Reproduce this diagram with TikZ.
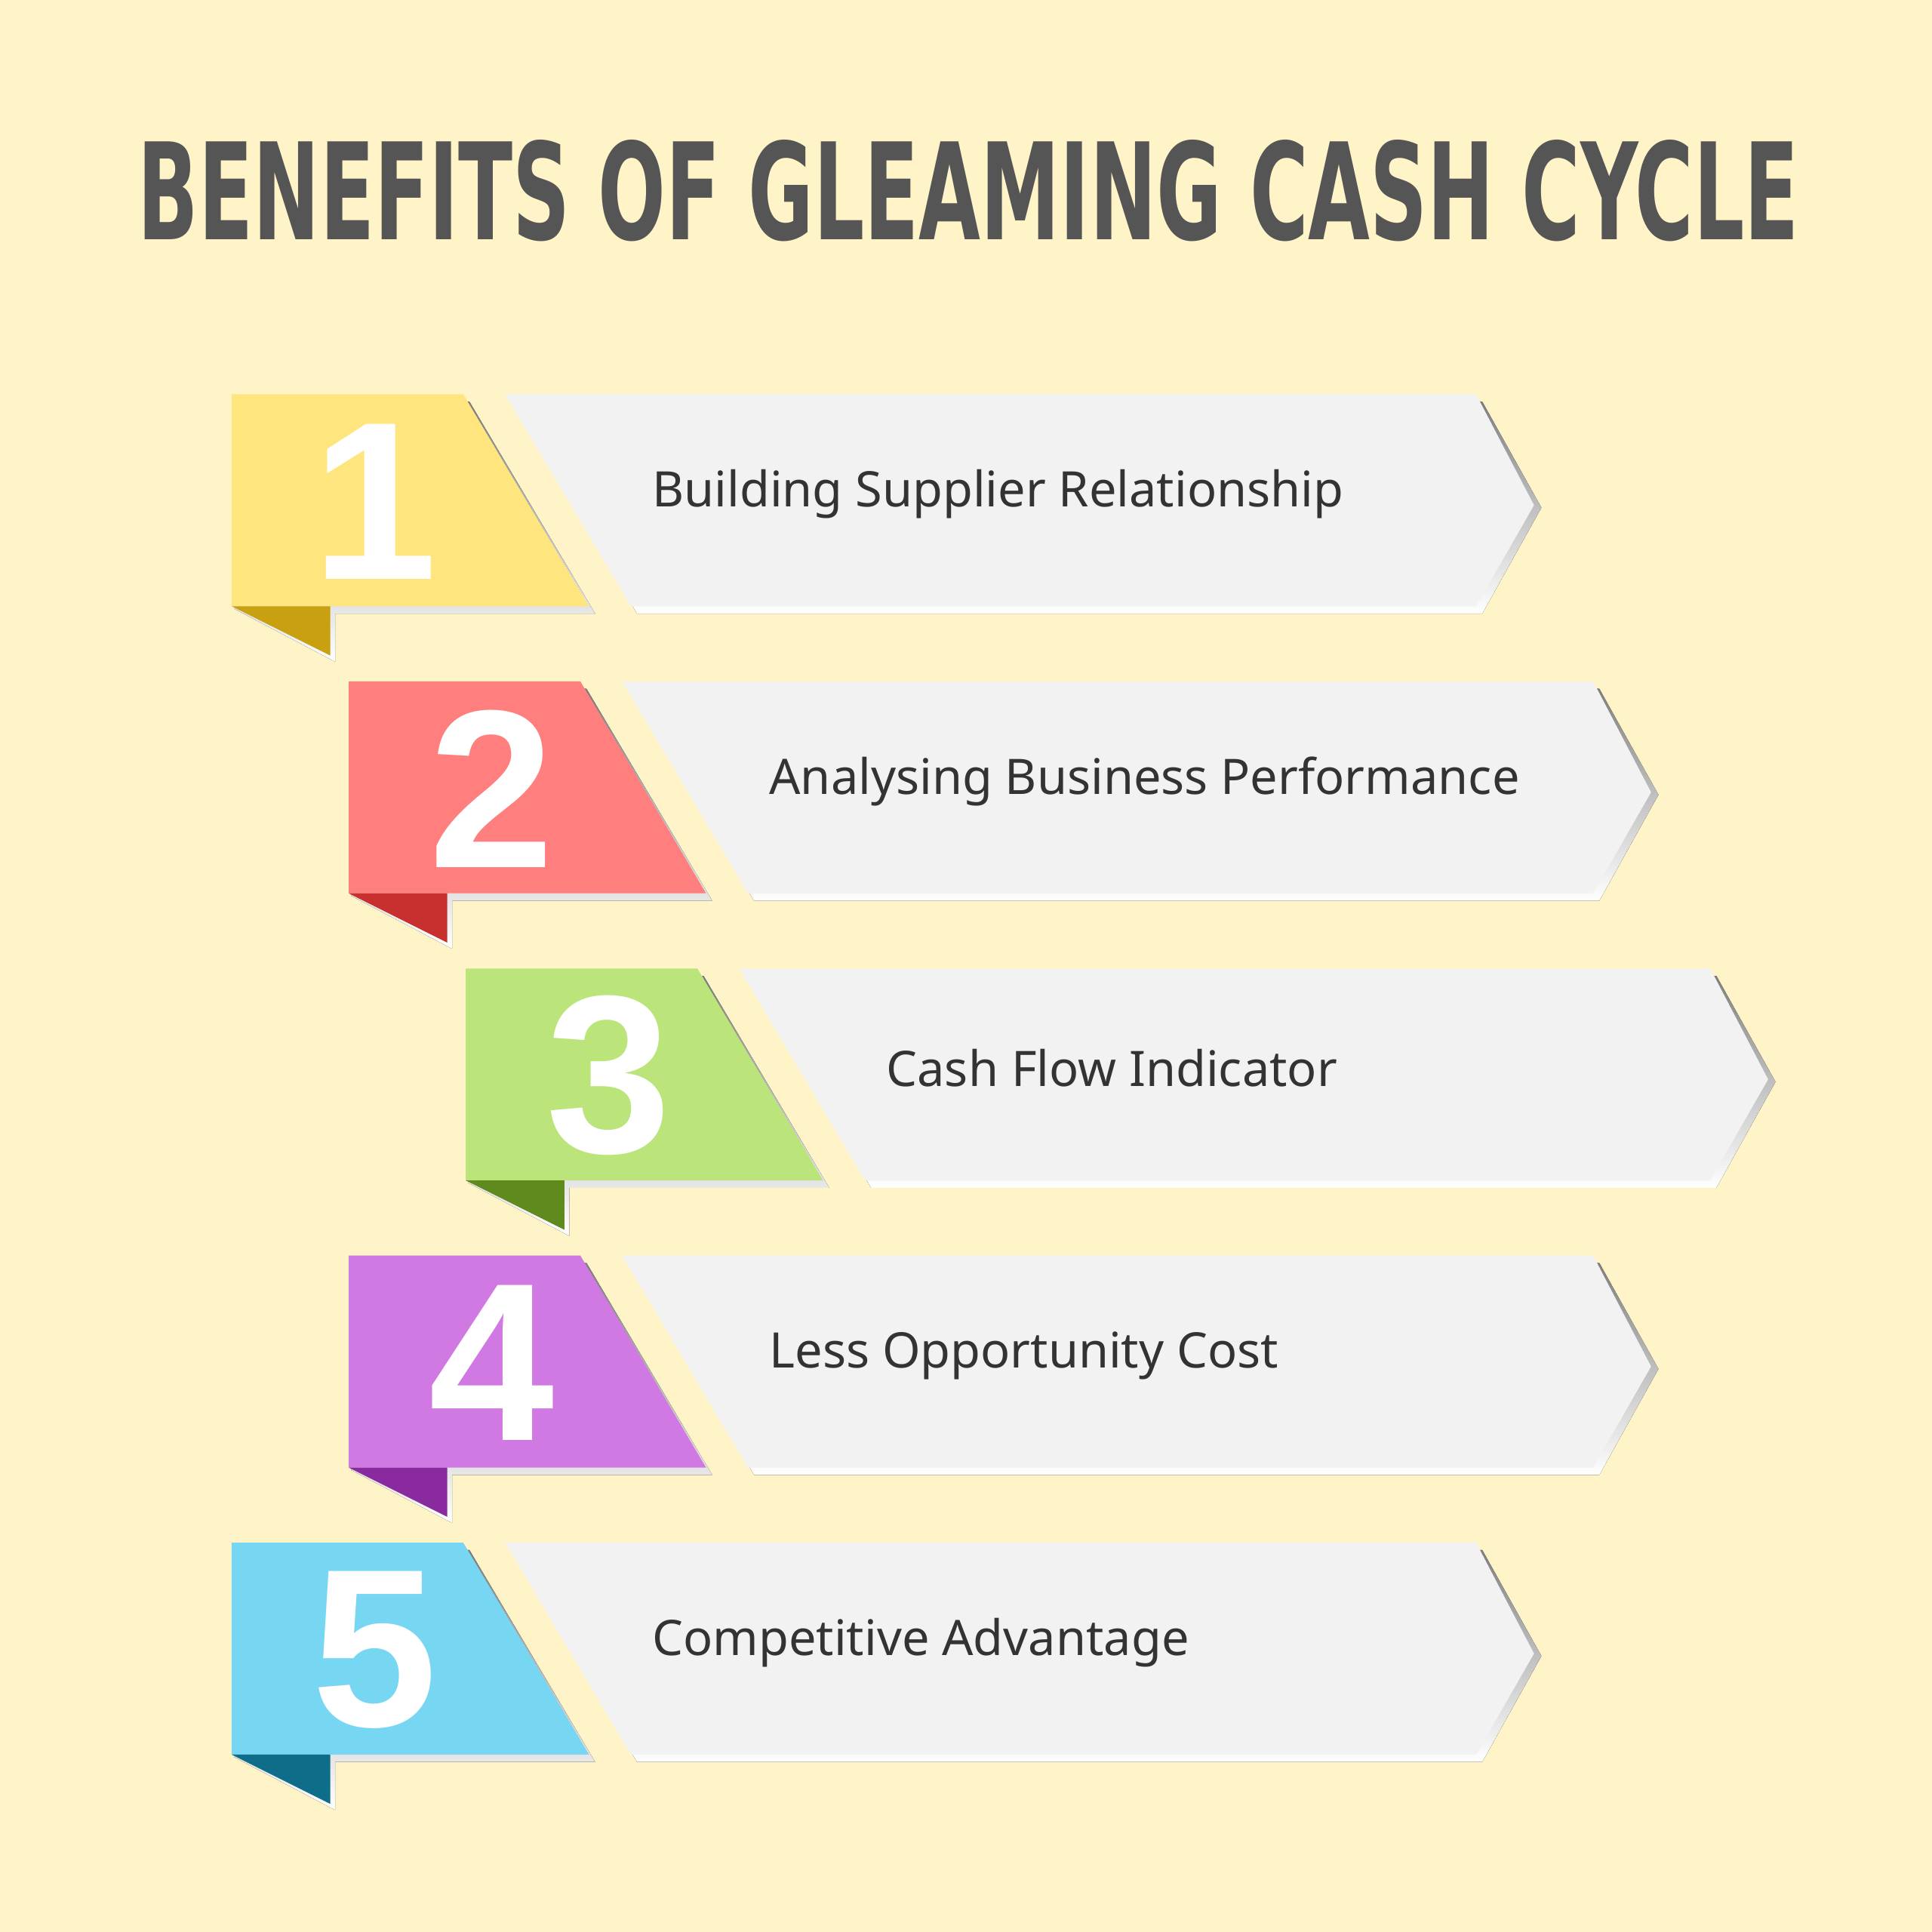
\documentclass[tikz,border=0pt]{standalone}
\usepackage{fontspec}
\setmainfont{Noto Sans}
\newfontfamily\numfont{Liberation Sans}
\newfontfamily\titlefont{DejaVu Sans Condensed}
\definecolor{bg}{HTML}{FFF4C8}
\definecolor{band}{HTML}{F2F2F2}
\definecolor{shade}{HTML}{CCCCCC}
\definecolor{ink}{HTML}{333333}
\definecolor{titleink}{HTML}{555555}
\definecolor{yel}{HTML}{FFE57E}\definecolor{yelD}{HTML}{C8A010}
\definecolor{red}{HTML}{FF7F7F}\definecolor{redD}{HTML}{C83030}
\definecolor{grn}{HTML}{BBE47A}\definecolor{grnD}{HTML}{5F8A1E}
\definecolor{pur}{HTML}{D179E3}\definecolor{purD}{HTML}{8A2A9F}
\definecolor{blu}{HTML}{77D6F1}\definecolor{bluD}{HTML}{0E6E8A}
\tikzset{
  digit/.style={text=white,font=\numfont\bfseries\fontsize{52}{52}\selectfont},
  label/.style={anchor=west,text=ink,font=\fontsize{11.3}{13}\selectfont}
}
\begin{document}
\begin{tikzpicture}[x=0.01cm,y=-0.01cm]
 \fill[bg] (0,0) rectangle (1568,1568);
 \useasboundingbox (0,0) rectangle (1568,1568);
 \node[text=titleink,font=\titlefont\bfseries\fontsize{31}{31}\selectfont] (title) at (786,155) {\scalebox{0.66}[1]{BENEFITS OF GLEAMING CASH CYCLE}};
 \foreach \i/\dx/\col/\dcol/\txt in {1/0/yel/yelD/Building Supplier Relationship,
   2/95/red/redD/Analysing Business Performance,
   3/190/grn/grnD/Cash Flow Indicator,
   4/95/pur/purD/Less Opportunity Cost,
   5/0/blu/bluD/Competitive Advantage}{
  \pgfmathsetmacro\dy{(\i-1)*233}
  \begin{scope}[shift={(\dx,\dy)}]
   % shadows
   \fill[shade] (193,326)--(381,326)--(483,498)--(272,498)--(272,537)--(190,494)--cycle;
   \fill[shade] (415,326)--(1203,326)--(1251,412)--(1203,498)--(517,498)--cycle;
   % tag and fold
   \fill[\col] (188,320)--(376,320)--(478,492)--(188,492)--cycle;
   \fill[\dcol] (188,492)--(268,492)--(268,532)--cycle;
   % banner
   \fill[band] (410,320)--(1198,320)--(1245,410)--(1198,492)--(512,492)--cycle;
   \node[digit] (n\i) at (304,407) {\i};
   \node[label] (t\i) at (517,401) {\txt};
  \end{scope}
 }
\end{tikzpicture}
\end{document}
